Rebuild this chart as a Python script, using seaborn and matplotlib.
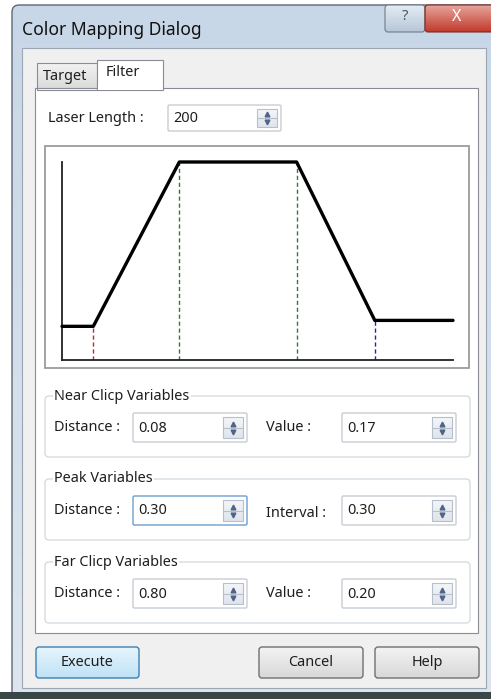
import matplotlib.pyplot as plt
import numpy as np
import seaborn as sns
from matplotlib.colors import to_rgb
from matplotlib.patches import FancyBboxPatch, Rectangle

sns.set_style('white')
plt.rcParams['font.family'] = ['Noto Sans', 'DejaVu Sans']

W, H = 491, 699

# filter curve: position along the laser (fraction) and relative value
curve_x = [0.0, 0.08, 0.30, 0.60, 0.80, 1.0]
curve_y = [0.17, 0.17, 1.0, 1.0, 0.20, 0.20]
guide_x = [0.08, 0.30, 0.60, 0.80]
guide_top = [0.17, 1.0, 1.0, 0.20]
guide_colors = ['#b0303c', '#2e7d3a', '#2e7d3a', '#26269c']

title = 'Color Mapping Dialog'
tab_names = ['Target', 'Filter']
laser_label = 'Laser Length :'
laser_value = '200'
group_names = ['Near Clicp Variables', 'Peak Variables', 'Far Clicp Variables']
left_labels = ['Distance :', 'Distance :', 'Distance :']
left_values = ['0.08', '0.30', '0.80']
right_labels = ['Value :', 'Interval :', 'Value :']
right_values = ['0.17', '0.30', '0.20']
button_names = ['Execute', 'Cancel', 'Help']

TXT = '#1e1e1e'
FS = 10.4


def box(ax, x0, y0, x1, y1, fc, ec, lw=1.0, r=0, z=1):
    if r:
        p = FancyBboxPatch((x0, y0), x1 - x0, y1 - y0,
                           boxstyle=f'round,pad=0,rounding_size={r}',
                           fc=fc, ec=ec, lw=lw, zorder=z)
    else:
        p = Rectangle((x0, y0), x1 - x0, y1 - y0, fc=fc, ec=ec, lw=lw, zorder=z)
    ax.add_patch(p)
    return p


def gradient(ax, x0, y0, x1, y1, top, bottom, clip=None, z=1):
    c0, c1 = np.array(to_rgb(top)), np.array(to_rgb(bottom))
    t = np.linspace(0, 1, 64)[:, None]
    img = (c0 * (1 - t) + c1 * t)[:, None, :]
    im = ax.imshow(img, extent=(x0, x1, y1, y0), aspect='auto', origin='upper',
                   zorder=z, interpolation='bilinear')
    if clip is not None:
        im.set_clip_path(clip)
    return im


def spinbox(ax, x0, y0, x1, y1, text, focus=False):
    box(ax, x0, y0, x1, y1, 'white', '#6a9fd0' if focus else '#c9ccd3', lw=1, r=1.5, z=3)
    ym = (y0 + y1) / 2
    ax.text(x0 + 5, ym + 0.5, text, fontsize=FS, color=TXT, va='center', ha='left', zorder=6)
    bx0, bx1, by0, by1 = x1 - 24, x1 - 4, y0 + 4, y1 - 4
    clip = box(ax, bx0, by0, bx1, by1, 'none', '#b7bfcb', lw=0.8, z=5)
    gradient(ax, bx0, by0, bx1, by1, '#f4f6f9', '#dfe4ec', clip=clip, z=4)
    ax.plot([bx0, bx1], [ym, ym], color='#b7bfcb', lw=0.8, zorder=5)
    cx = (bx0 + bx1) / 2
    ax.plot(cx, ym - 4, marker='^', ms=3.4, color='#4f6488', zorder=6)
    ax.plot(cx, ym + 4, marker='v', ms=3.4, color='#4f6488', zorder=6)


fig = plt.figure(figsize=(W / 100, H / 100), dpi=100)
bg = fig.add_axes([0, 0, 1, 1])
bg.set_xlim(0, W)
bg.set_ylim(H, 0)
bg.axis('off')
bg.set_autoscale_on(False)

# window frame
frame = box(bg, 12, 5, W + 10, H + 10, 'none', '#5e6873', lw=1, r=7, z=1)
gradient(bg, 12, 5, W, H, '#c8d7e8', '#dde6ef', clip=frame, z=0.5)
bg.add_patch(Rectangle((0, 692), W, 7, fc='#394846', ec='none', zorder=2))
bg.text(22, 30, title, fontsize=12.6, color='#111111', va='center', ha='left', zorder=3)

# caption buttons
hb = box(bg, 385, 5, 425, 32, 'none', '#6d7b8b', lw=0.8, r=3, z=3)
gradient(bg, 385, 5, 425, 32, '#e4ecf4', '#b7c6d7', clip=hb, z=2)
bg.text(405, 17, '?', fontsize=10.5, color='#445566', ha='center', va='center',
        fontweight='bold', zorder=4)
cb = box(bg, 425, 5, W + 8, 32, 'none', '#7b2b22', lw=0.8, r=3, z=3)
gradient(bg, 425, 5, W, 32, '#e6a59c', '#c2392b', clip=cb, z=2)
bg.text(457, 17, 'X', fontsize=11.5, color='white', ha='center', va='center',
        fontweight='bold', zorder=4)

# client area
box(bg, 22, 48, 486, 688, '#f0f0f0', '#9aa6b2', lw=0.8, z=2)

# tabs + tab page
tb = box(bg, 37, 63, 97, 90, 'none', '#898c95', lw=0.8, z=4)
gradient(bg, 37, 63, 97, 90, '#f3f3f3', '#d9d9d9', clip=tb, z=3)
box(bg, 35, 88, 478, 633, 'white', '#898c95', lw=0.8, z=3)
box(bg, 97, 60, 163, 89.5, 'white', '#898c95', lw=0.8, z=5)
bg.add_patch(Rectangle((97.6, 86), 64.8, 4, fc='white', ec='none', zorder=6))
bg.text(43, 77, tab_names[0], fontsize=FS, color=TXT, va='center', ha='left', zorder=6)
bg.text(106, 72, tab_names[1], fontsize=FS, color=TXT, va='center', ha='left', zorder=6)

# laser length
bg.text(48, 118, laser_label, fontsize=FS, color=TXT, va='center', ha='left', zorder=6)
spinbox(bg, 168, 105, 281, 131, laser_value)

# chart frame
box(bg, 45, 146, 469, 368, 'white', '#9c9c9c', lw=1.3, z=4)

# group boxes
group_top = [396, 479, 562]
for i, name in enumerate(group_names):
    gy = group_top[i]
    box(bg, 45, gy, 470, gy + 61, 'none', '#d5dce3', lw=1, r=4, z=4)
    bg.text(54, gy, name, fontsize=FS, color=TXT, va='center', ha='left', zorder=6,
            bbox=dict(fc='white', ec='none', pad=1))
    ry0 = gy + 17
    ym = ry0 + 14.5
    bg.text(54, ym, left_labels[i], fontsize=FS, color=TXT, va='center', ha='left', zorder=6)
    spinbox(bg, 133, ry0, 247, ry0 + 29, left_values[i], focus=(i == 1))
    dy = 3 if right_labels[i].startswith('Interval') else 0
    bg.text(266, ym + dy, right_labels[i], fontsize=FS, color=TXT, va='center',
            ha='left', zorder=6)
    spinbox(bg, 342, ry0, 456, ry0 + 29, right_values[i])

# buttons
button_x = [(36, 139), (259, 363), (375, 479)]
for i, name in enumerate(button_names):
    x0, x1 = button_x[i]
    if i == 0:
        ec, top, bot = '#3c7fb1', '#e6f5fd', '#bfe2f5'
    else:
        ec, top, bot = '#707070', '#f3f3f3', '#d8d8d8'
    b = box(bg, x0, 647, x1, 678, 'none', ec, lw=1, r=3, z=4)
    gradient(bg, x0, 647, x1, 678, top, bot, clip=b, z=3)
    bg.text((x0 + x1) / 2, 663, name, fontsize=FS, color=TXT, va='center',
            ha='center', zorder=6)

# filter curve chart
ax = fig.add_axes([62 / W, 1 - 360 / H, (453 - 62) / W, (360 - 162) / H], zorder=5)
ax.set_facecolor('none')
ax.vlines(guide_x, 0, guide_top, colors=guide_colors, linestyles=(0, (3, 2)), lw=1, zorder=2)
sns.lineplot(x=curve_x, y=curve_y, color='black', lw=2.4, ax=ax, zorder=4)
for line in ax.lines:
    line.set_clip_on(False)
ax.set_xlim(0, 1)
ax.set_ylim(0, 1)
ax.set_xticks([])
ax.set_yticks([])
ax.set_xlabel('')
ax.set_ylabel('')
for s in ['top', 'right']:
    ax.spines[s].set_visible(False)
for s in ['left', 'bottom']:
    ax.spines[s].set_color('#222222')
    ax.spines[s].set_linewidth(1.3)

fig.savefig('out.png', dpi=100)
